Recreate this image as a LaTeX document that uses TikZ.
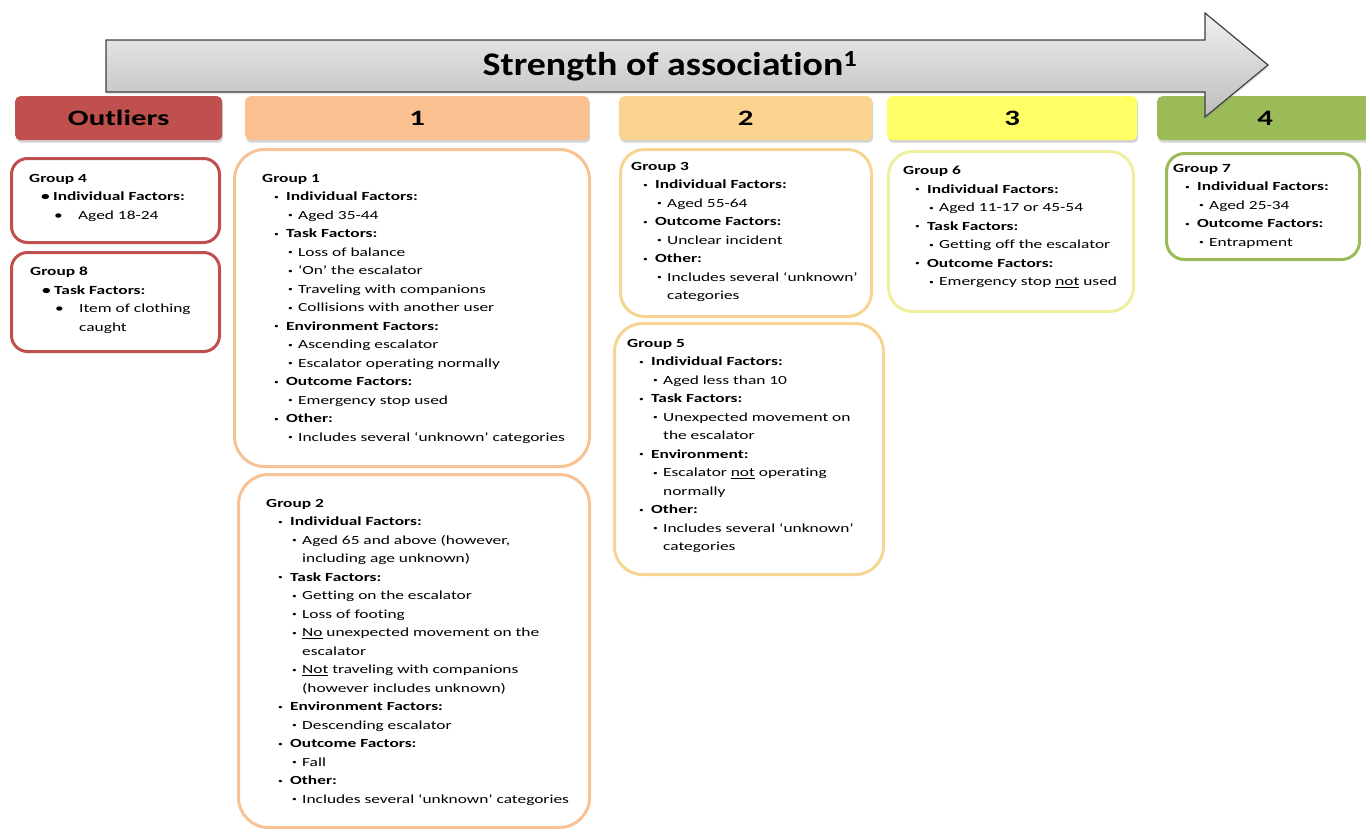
\documentclass[tikz,border=0pt]{standalone}
\usepackage{fontspec}
\usepackage{graphicx}
\setmainfont{Carlito}[FakeStretch=1.4, Ligatures=CommonOff]
\newfontfamily\titlefont{Carlito}[FakeStretch=1.15, Ligatures=CommonOff]
\usetikzlibrary{positioning,shadows}

\definecolor{outred}{HTML}{C0504D}
\definecolor{peach}{HTML}{FAC090}
\definecolor{lorange}{HTML}{FAD38E}
\definecolor{lyellow}{HTML}{FFFF66}
\definecolor{lgreen}{HTML}{9BBB59}
\definecolor{line1}{HTML}{F7C396}
\definecolor{line2}{HTML}{F6D592}
\definecolor{line3}{HTML}{EEF0A0}
\definecolor{arrline}{HTML}{404040}

% bullets and indents
\newcommand{\bul}{\raisebox{0.12em}{\scalebox{0.55}{•}}}
\newcommand{\fa}[1]{\hspace*{12pt}\makebox[12pt][l]{\bul}\textbf{#1}}
\newcommand{\fb}[1]{\hspace*{26pt}\makebox[10pt][l]{\bul}#1}
\newcommand{\fc}[1]{\hspace*{36pt}#1}
\newcommand{\oa}[1]{\hspace*{12pt}\makebox[12pt][l]{\textbf{•}}\textbf{#1}}
\newcommand{\ob}[1]{\hspace*{25pt}\makebox[24pt][l]{•}#1}
\newcommand{\oc}[1]{\hspace*{49pt}#1}

\tikzset{
  hdr/.style={fill=#1, rounded corners=5pt, minimum height=44pt, inner sep=0pt,
    anchor=north west, font=\bfseries\fontsize{22}{22}\selectfont,
    drop shadow={shadow xshift=1pt, shadow yshift=-2.5pt, opacity=.35}},
  grpbox/.style={draw=#1, line width=3pt, fill=white, inner sep=0pt,
    anchor=north west},
  grptext/.style={align=left, inner sep=0pt,
    font=\fontsize{12.4}{18.5}\selectfont}
}

\begin{document}
\begin{tikzpicture}[x=1pt,y=-1pt]
  \useasboundingbox (0,0) rectangle (1366,828);

  % Level headers
  \node[hdr=outred,  minimum width=207] (out) at (15,96)   {Outliers};
  \node[hdr=peach,   minimum width=344] (s1)  at (245,96)  {1};
  \node[hdr=lorange, minimum width=253] (s2)  at (619,96)  {2};
  \node[hdr=lyellow, minimum width=250] (s3)  at (887,96)  {3};
  \node[hdr=lgreen,  minimum width=216] (s4)  at (1157,96) {4};

  % Arrow
  \draw[draw=arrline, line width=1.2pt, top color=black!6, bottom color=black!26,
        drop shadow={shadow xshift=1pt, shadow yshift=-2pt, opacity=.2}]
    (106,40) -- (1205,40) -- (1205,13) -- (1268,65) -- (1205,117)
    -- (1205,92) -- (106,92) -- cycle;
  \node[font=\titlefont\bfseries\fontsize{33}{33}\selectfont] (title) at (670,66)
    {Strength of association\textsuperscript{1}};

  % Outliers
  \node[grpbox=outred, minimum width=208, minimum height=84, rounded corners=16pt]
    (g4box) at (10,157) {};
  \node[grptext, below right=17pt and 19pt of g4box.north west] (g4)
    {\textbf{Group 4}\\
     \oa{Individual Factors:}\\
     \ob{Aged 18-24}};

  \node[grpbox=outred, minimum width=208, minimum height=99, rounded corners=16pt]
    (g8box) at (10,251) {};
  \node[grptext, below right=16pt and 20pt of g8box.north west] (g8)
    {\textbf{Group 8}\\
     \oa{Task Factors:}\\
     \ob{Item of clothing}\\
     \oc{caught}};

  % Level 1
  \node[grpbox=line1, minimum width=355, minimum height=317, rounded corners=30pt]
    (g1box) at (233,148) {};
  \node[grptext, below right=26pt and 29pt of g1box.north west] (g1)
    {\textbf{Group 1}\\
     \fa{Individual Factors:}\\
     \fb{Aged 35-44}\\
     \fa{Task Factors:}\\
     \fb{Loss of balance}\\
     \fb{‘On’ the escalator}\\
     \fb{Traveling with companions}\\
     \fb{Collisions with another user}\\
     \fa{Environment Factors:}\\
     \fb{Ascending escalator}\\
     \fb{Escalator operating normally}\\
     \fa{Outcome Factors:}\\
     \fb{Emergency stop used}\\
     \fa{Other:}\\
     \fb{Includes several ‘unknown’ categories}};

  \node[grpbox=line1, minimum width=351, minimum height=353, rounded corners=30pt]
    (g2box) at (237,473) {};
  \node[grptext, below right=26pt and 29pt of g2box.north west] (g2)
    {\textbf{Group 2}\\
     \fa{Individual Factors:}\\
     \fb{Aged 65 and above (however,}\\
     \fc{including age unknown)}\\
     \fa{Task Factors:}\\
     \fb{Getting on the escalator}\\
     \fb{Loss of footing}\\
     \fb{\underline{No} unexpected movement on the}\\
     \fc{escalator}\\
     \fb{\underline{Not} traveling with companions}\\
     \fc{(however includes unknown)}\\
     \fa{Environment Factors:}\\
     \fb{Descending escalator}\\
     \fa{Outcome Factors:}\\
     \fb{Fall}\\
     \fa{Other:}\\
     \fb{Includes several ‘unknown’ categories}};

  % Level 2
  \node[grpbox=line2, minimum width=251, minimum height=167, rounded corners=24pt]
    (g3box) at (619,148) {};
  \node[grptext, below right=14pt and 12pt of g3box.north west] (g3)
    {\textbf{Group 3}\\
     \fa{Individual Factors:}\\
     \fb{Aged 55-64}\\
     \fa{Outcome Factors:}\\
     \fb{Unclear incident}\\
     \fa{Other:}\\
     \fb{Includes several ‘unknown’}\\
     \fc{categories}};

  \node[grpbox=line2, minimum width=269, minimum height=251, rounded corners=28pt]
    (g5box) at (613,322) {};
  \node[grptext, below right=17pt and 14pt of g5box.north west] (g5)
    {\textbf{Group 5}\\
     \fa{Individual Factors:}\\
     \fb{Aged less than 10}\\
     \fa{Task Factors:}\\
     \fb{Unexpected movement on}\\
     \fc{the escalator}\\
     \fa{Environment:}\\
     \fb{Escalator \underline{not} operating}\\
     \fc{normally}\\
     \fa{Other:}\\
     \fb{Includes several ‘unknown’}\\
     \fc{categories}};

  % Level 3
  \node[grpbox=line3, minimum width=245, minimum height=160, rounded corners=24pt]
    (g6box) at (887,150) {};
  \node[grptext, below right=16pt and 16pt of g6box.north west] (g6)
    {\textbf{Group 6}\\
     \fa{Individual Factors:}\\
     \fb{Aged 11-17 or 45-54}\\
     \fa{Task Factors:}\\
     \fb{Getting off the escalator}\\
     \fa{Outcome Factors:}\\
     \fb{Emergency stop \underline{not} used}};

  % Level 4
  \node[grpbox=lgreen, minimum width=193, minimum height=106, rounded corners=18pt]
    (g7box) at (1165,152) {};
  \node[grptext, below right=12pt and 8pt of g7box.north west] (g7)
    {\textbf{Group 7}\\
     \fa{Individual Factors:}\\
     \fb{Aged 25-34}\\
     \fa{Outcome Factors:}\\
     \fb{Entrapment}};

\end{tikzpicture}
\end{document}
